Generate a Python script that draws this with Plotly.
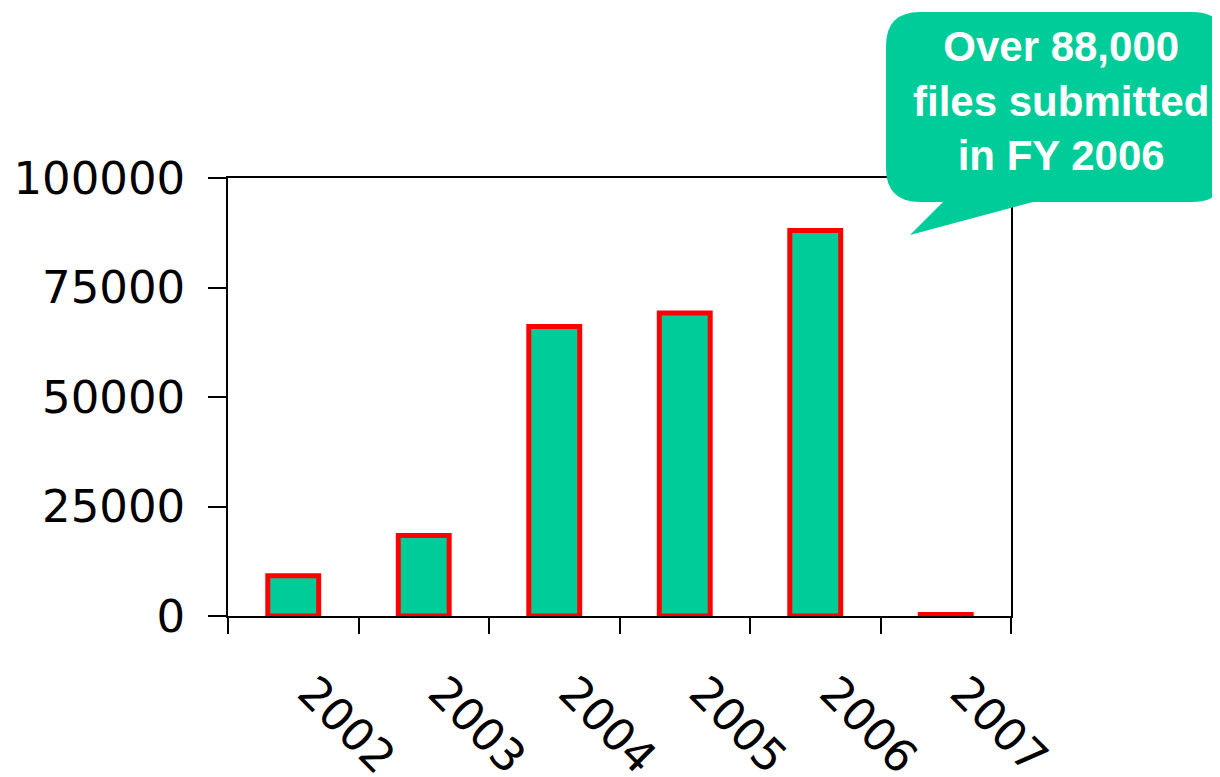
import plotly.graph_objects as go

years = ["2002", "2003", "2004", "2005", "2006", "2007"]
files = [9200, 18400, 66100, 69200, 88000, 350]
y_ticks = [0, 25000, 50000, 75000, 100000]
callout_lines = ["Over 88,000", "files submitted", "in FY 2006"]

W, H = 1220, 777
OFF = 8  # page body margin in the browser
L, R, T, B = 228, 1011, 178, 616  # plot area in screen pixels

def px(xp):
    return (xp - L) / (R - L)

def py(yp):
    return (B - yp) / (B - T)

GREEN = "#00CC99"

fig = go.Figure()
fig.add_trace(go.Bar(
    x=years, y=files, width=0.39,
    marker=dict(color=GREEN, line=dict(color="#FF0000", width=5)),
))

# Speech-bubble callout (pixel outline converted to paper coordinates)
x0, x1, y0, y1, r = 886, 1226, 12, 202, 34
def P(x, y):
    return f"{px(x):.5f},{py(y):.5f}"
path = (
    f"M {P(x0 + r, y0)} L {P(x1 - r, y0)} Q {P(x1, y0)} {P(x1, y0 + r)} "
    f"L {P(x1, y1 - r)} Q {P(x1, y1)} {P(x1 - r, y1)} "
    f"L {P(1033, y1)} L {P(910, 235)} L {P(943, y1)} "
    f"L {P(x0 + r, y1)} Q {P(x0, y1)} {P(x0, y1 - r)} "
    f"L {P(x0, y0 + r)} Q {P(x0, y0)} {P(x0 + r, y0)} Z"
)
fig.add_shape(type="path", path=path, xref="paper", yref="paper",
              fillcolor=GREEN, line=dict(width=0), layer="above")

fig.add_annotation(
    x=px(1061), y=py(101), xref="paper", yref="paper",
    text="<br>".join(callout_lines), showarrow=False,
    font=dict(family="Liberation Sans", size=42, color="white", weight="bold"),
    align="center", xanchor="center", yanchor="middle",
)

fig.update_layout(
    width=W, height=H,
    margin=dict(l=L - OFF, r=W - (R - OFF), t=T - OFF, b=H - (B - OFF), autoexpand=False),
    plot_bgcolor="white", paper_bgcolor="white",
    showlegend=False,
    font=dict(family="DejaVu Sans", size=45, color="black"),
)
fig.update_xaxes(
    type="category", range=[-0.5, 5.5],
    showline=True, linecolor="black", linewidth=1.6, mirror=True,
    ticks="outside", tickson="boundaries", ticklen=16, tickwidth=1.6, tickcolor="black",
    tickangle=45, showgrid=False, tickfont=dict(family="DejaVu Sans", size=45),
    ticklabelstandoff=30, ticklabelshift=18,
)
fig.update_yaxes(
    range=[0, 100000], tickvals=y_ticks, tickformat="d",
    showline=True, linecolor="black", linewidth=1.6, mirror=True,
    ticks="outside", ticklen=18, tickwidth=1.6, tickcolor="black",
    showgrid=False, zeroline=False,
    tickfont=dict(family="DejaVu Sans", size=45),
    ticklabelstandoff=14,
)

fig.write_html("out.html")
